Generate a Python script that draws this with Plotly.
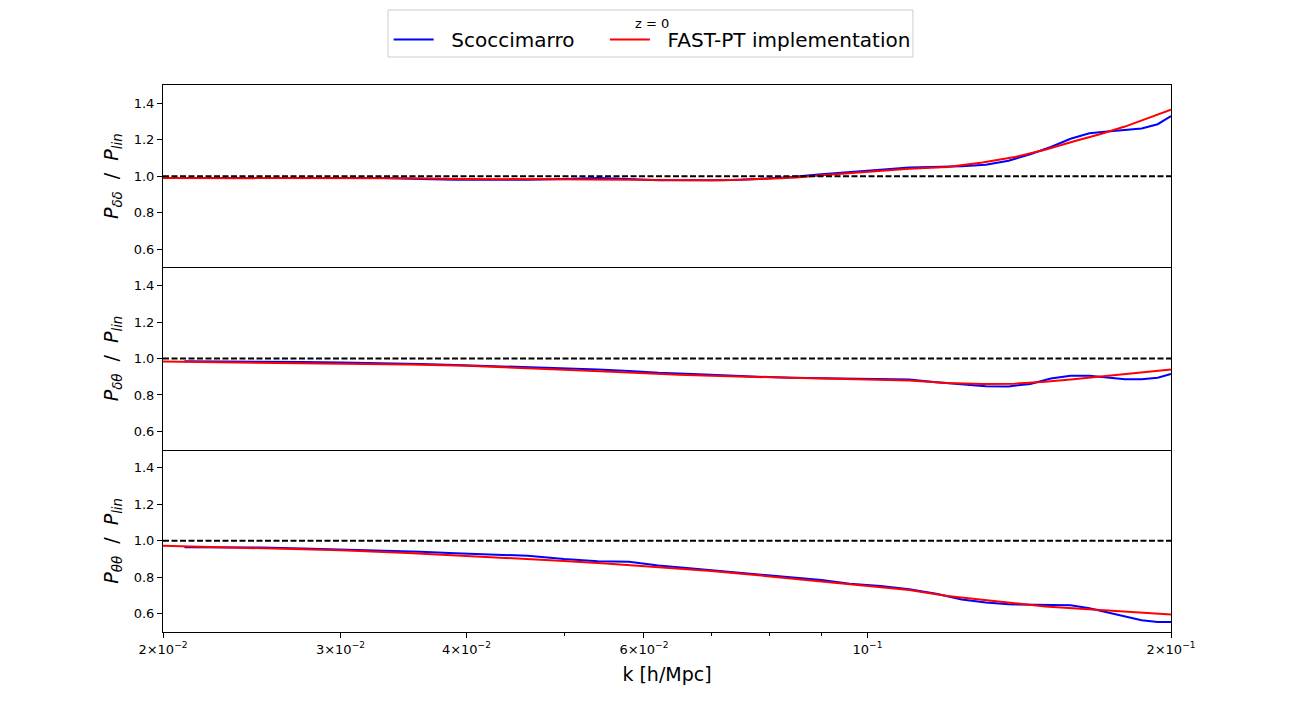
import plotly.graph_objects as go
from plotly.subplots import make_subplots

# ---- data ----
k_sc = [0.021, 0.023, 0.025, 0.0275, 0.030, 0.033, 0.036, 0.039, 0.042, 0.046,
        0.050, 0.054, 0.058, 0.062, 0.067, 0.072, 0.078, 0.084, 0.090, 0.096,
        0.103, 0.110, 0.117, 0.124, 0.131, 0.138, 0.145, 0.152, 0.159, 0.166,
        0.173, 0.180, 0.187, 0.194, 0.200]
sc_dd = [0.99, 0.99, 0.99, 0.99, 0.99, 0.99, 0.985, 0.98, 0.98, 0.98,
         0.985, 0.99, 0.985, 0.977, 0.977, 0.978, 0.985, 0.995, 1.01, 1.02,
         1.035, 1.048, 1.05, 1.055, 1.063, 1.085, 1.12, 1.16, 1.205, 1.235,
         1.245, 1.252, 1.262, 1.285, 1.33]
sc_dt = [0.985, 0.985, 0.983, 0.981, 0.978, 0.975, 0.97, 0.965, 0.96, 0.952,
         0.945, 0.94, 0.932, 0.922, 0.915, 0.907, 0.9, 0.895, 0.893, 0.893,
         0.89, 0.885, 0.87, 0.858, 0.848, 0.847, 0.86, 0.89, 0.905, 0.905,
         0.895, 0.886, 0.886, 0.895, 0.915]
sc_tt = [0.965, 0.965, 0.963, 0.958, 0.953, 0.947, 0.94, 0.932, 0.925, 0.918,
         0.9, 0.888, 0.885, 0.865, 0.848, 0.832, 0.815, 0.8, 0.785, 0.765,
         0.752, 0.735, 0.71, 0.678, 0.662, 0.652, 0.649, 0.648, 0.647, 0.63,
         0.608, 0.585, 0.565, 0.555, 0.555]

k_fp = [0.020, 0.025, 0.030, 0.035, 0.040, 0.045, 0.050, 0.055, 0.060, 0.065,
        0.070, 0.075, 0.080, 0.085, 0.090, 0.095, 0.100, 0.110, 0.120, 0.130,
        0.140, 0.150, 0.160, 0.170, 0.180, 0.190, 0.200]
fp_dd = [0.99, 0.99, 0.99, 0.988, 0.985, 0.983, 0.982, 0.98, 0.978, 0.977,
         0.978, 0.98, 0.985, 0.993, 1.005, 1.015, 1.025, 1.04, 1.05, 1.075,
         1.105, 1.145, 1.19, 1.23, 1.272, 1.318, 1.365]
fp_dt = [0.983, 0.978, 0.973, 0.967, 0.96, 0.95, 0.938, 0.928, 0.918, 0.911,
         0.905, 0.9, 0.895, 0.892, 0.89, 0.888, 0.886, 0.88, 0.865, 0.86,
         0.862, 0.872, 0.886, 0.9, 0.912, 0.926, 0.94]
fp_tt = [0.973, 0.96, 0.948, 0.933, 0.918, 0.904, 0.89, 0.876, 0.862, 0.848,
         0.835, 0.82, 0.805, 0.79, 0.777, 0.765, 0.755, 0.73, 0.697, 0.675,
         0.658, 0.64, 0.63, 0.622, 0.614, 0.605, 0.596]

series_names = ["Scoccimarro", "FAST-PT implementation"]
legend_title = "z = 0"
x_tickvals = [0.02, 0.03, 0.04, 0.06, 0.1, 0.2]
x_ticktext = ["2×10<sup>−2</sup>", "3×10<sup>−2</sup>", "4×10<sup>−2</sup>",
              "6×10<sup>−2</sup>", "10<sup>−1</sup>", "2×10<sup>−1</sup>"]
x_minor = [0.05, 0.07, 0.08, 0.09]
y_tickvals = [0.6, 0.8, 1.0, 1.2, 1.4]
SL = " \u00a0/\u00a0 "
y_labels = ["<i>P</i><sub><i>δδ</i></sub>" + SL + "<i>P</i><sub><i>lin</i></sub>",
            "<i>P</i><sub><i>δθ</i></sub>" + SL + "<i>P</i><sub><i>lin</i></sub>",
            "<i>P</i><sub><i>θθ</i></sub>" + SL + "<i>P</i><sub><i>lin</i></sub>"]

FONT = "DejaVu Sans"
PAD = "\u00a0\u00a0"
GAP = "\u00a0\u00a0\u00a0\u00a0"

fig = make_subplots(rows=3, cols=1, shared_xaxes=True, vertical_spacing=0)

sc_sets = [sc_dd, sc_dt, sc_tt]
fp_sets = [fp_dd, fp_dt, fp_tt]
for i in range(3):
    r = i + 1
    fig.add_trace(go.Scatter(x=k_sc, y=sc_sets[i], mode="lines",
                             line=dict(color="#0000ff", width=2),
                             name=PAD + series_names[0] + GAP, showlegend=(i == 0)),
                  row=r, col=1)
    fig.add_trace(go.Scatter(x=k_fp, y=fp_sets[i], mode="lines",
                             line=dict(color="#ff0000", width=2),
                             name=PAD + series_names[1], showlegend=(i == 0)),
                  row=r, col=1)
    fig.add_trace(go.Scatter(x=[0.02, 0.2], y=[1.0, 1.0], mode="lines",
                             line=dict(color="black", width=2, dash="6px,2.5px"),
                             showlegend=False, hoverinfo="skip"), row=r, col=1)
    fig.update_yaxes(range=[0.5, 1.5], tickvals=y_tickvals, tickformat=".1f",
                     showline=True, mirror=True, linecolor="black", linewidth=1,
                     ticks="outside", ticklen=5, tickwidth=1, tickcolor="black",
                     showgrid=False, zeroline=False,
                     tickfont=dict(family=FONT, size=13, color="black"),
                     title=dict(text=y_labels[i], standoff=10,
                                font=dict(family=FONT, size=19, color="black")),
                     row=r, col=1)
    bottom = (r == 3)
    fig.update_xaxes(type="log", range=[-1.69897, -0.69897],
                     tickvals=x_tickvals, ticktext=x_ticktext,
                     showline=True, mirror=(r == 1), linecolor="black", linewidth=1,
                     ticks="outside" if bottom else "", ticklen=5, tickwidth=1,
                     tickcolor="black",
                     minor=dict(tickvals=x_minor, ticks="outside" if bottom else "",
                                ticklen=3, tickwidth=1, tickcolor="black",
                                showgrid=False),
                     showgrid=False, zeroline=False,
                     tickfont=dict(family=FONT, size=13, color="black"),
                     row=r, col=1)

fig.update_xaxes(title=dict(text="k [h/Mpc]", standoff=12,
                            font=dict(family=FONT, size=19, color="black")),
                 row=3, col=1)

fig.update_layout(
    width=1293, height=702,
    margin=dict(l=155, r=130, t=77, b=78),
    paper_bgcolor="white", plot_bgcolor="white",
    font=dict(family=FONT, color="black"),
    legend=dict(orientation="h", xref="container", yref="container",
                x=0.2944, xanchor="left", y=0.983, yanchor="top",
                borderwidth=0, bgcolor="rgba(0,0,0,0)",
                font=dict(family=FONT, size=20, color="black"),
                itemwidth=40, entrywidth=0, tracegroupgap=0),
    shapes=[dict(type="rect", xref="paper", yref="paper",
                 x0=0.2232, x1=0.744, y0=1.0512, y1=1.1371,
                 line=dict(color="#cccccc", width=1), fillcolor="rgba(255,255,255,0)",
                 layer="below")],
    annotations=[dict(text=legend_title, xref="paper", yref="paper", x=0.485, y=1.1133,
                      xanchor="center", yanchor="middle", showarrow=False,
                      font=dict(family=FONT, size=13, color="black"))],
)

fig.write_html("out.html")
